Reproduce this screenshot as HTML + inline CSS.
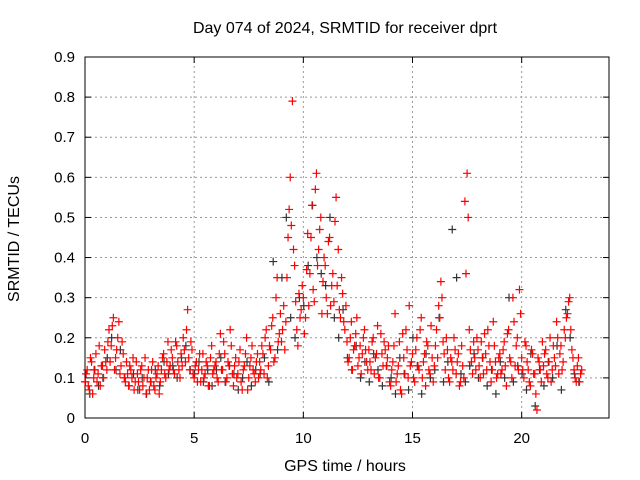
<!DOCTYPE html>
<html><head><meta charset="utf-8"><style>
body{margin:0;background:#fff;}
svg{display:block;font-family:"Liberation Sans",sans-serif;}
</style></head><body>
<svg id="chart" width="640" height="480" viewBox="0 0 640 480" xmlns="http://www.w3.org/2000/svg">
<rect width="640" height="480" fill="#fff"/>
<g id="grid"></g>
<g id="axes"></g>
<g id="marks"></g>
<text x="345" y="33" font-size="16" text-anchor="middle">Day 074 of 2024, SRMTID for receiver dprt</text>
<text x="345" y="471" font-size="16" text-anchor="middle">GPS time / hours</text>
<text transform="translate(19,239) rotate(-90)" font-size="16" text-anchor="middle">SRMTID / TECUs</text>
</svg>
<script>
const xTicks=[0,5,10,15,20];
const yTicks=[0,0.1,0.2,0.3,0.4,0.5,0.6,0.7,0.8,0.9];
const yTickLabels=["0","0.1","0.2","0.3","0.4","0.5","0.6","0.7","0.8","0.9"];
const redA=[.09,.12,.07,.14,.10,.16,.11,.08,.13,.17,
.12,.22,.18,.25,.15,.20,.11,.19,.10,.14,
.08,.12,.15,.09,.11,.07,.13,.10,.06,.12,
.09,.14,.07,.11,.06,.12,.16,.10,.19,.13,
.15,.11,.18,.12,.16,.20,.14,.27,.12,.17,
.10,.14,.12,.09,.16,.11,.13,.08,.18,.12,
.14,.09,.21,.12,.16,.10,.13,.18,.08,.15,
.11,.17,.07,.13,.20,.10,.15,.12,.09,.16,
.14,.18,.11,.22,.13,.17,.25,.15,.35,.21,
.19,.28,.24,.45,.60,.79,.38,.22,.31,.27,
.30,.25,.46,.36,.53,.29,.61,.42,.50,.34,
.38,.26,.45,.33,.29,.55,.42,.25,.31,.22,
.19,.15,.24,.17,.21,.13,.18,.16,.22,.14,
.17,.12,.20,.15,.23,.10,.16,.19,.13,.18,
.08,.14,.26,.11,.19,.06,.15,.22,.10,.13,
.16,.09,.20,.12,.25,.14,.08,.18,.11,.15,
.13,.22,.28,.34,.19,.12,.17,.09,.14,.20,
.11,.16,.09,.13,.54,.61,.22,.14,.19,.12,
.17,.10,.15,.21,.12,.18,.09,.24,.14,.11,
.16,.12,.19,.08,.22,.14,.30,.13,.20,.32,
.15,.10,.18,.12,.08,.16,.11,.02,.14,.09,
.13,.17,.10,.20,.12,.15,.24,.11,.18,.14,
.20,.26,.30,.17,.12,.09,.15,.11];
const redB=[.11,.08,.15,.06,.12,.09,.18,.13,.10,.14,
.19,.14,.23,.12,.17,.24,.13,.16,.09,.11,
.13,.10,.07,.14,.09,.12,.08,.15,.10,.07,
.12,.08,.10,.13,.09,.15,.11,.14,.12,.17,
.12,.19,.14,.10,.13,.17,.22,.15,.19,.11,
.13,.09,.16,.12,.10,.14,.08,.15,.11,.13,
.10,.16,.12,.19,.09,.14,.22,.11,.13,.10,
.14,.09,.12,.16,.07,.13,.18,.11,.14,.10,
.12,.16,.20,.10,.18,.23,.14,.30,.19,.26,
.22,.17,.35,.52,.48,.42,.29,.18,.25,.33,
.21,.37,.28,.45,.32,.57,.38,.47,.26,.40,
.30,.44,.28,.36,.49,.33,.27,.35,.24,.28,
.14,.20,.12,.18,.25,.15,.11,.20,.17,.12,
.14,.19,.11,.16,.10,.21,.13,.17,.15,.09,
.12,.18,.09,.13,.07,.21,.11,.17,.28,.14,
.10,.17,.13,.22,.10,.16,.19,.12,.23,.09,
.18,.15,.25,.30,.16,.20,.10,.15,.12,.17,
.14,.08,.18,.10,.36,.50,.17,.11,.15,.20,
.13,.19,.11,.16,.22,.14,.12,.18,.10,.15,
.11,.17,.13,.21,.15,.10,.24,.18,.12,.26,
.12,.19,.14,.09,.17,.11,.06,.15,.12,.19,
.16,.11,.14,.09,.18,.13,.20,.16,.12,.22,
.25,.29,.22,.15,.10,.13,.09,.12];
const black=[.09,.06,.12,.08,.10,.15,.20,.12,.17,.10,
.08,.11,.07,.10,.06,.09,.12,.08,.14,.11,
.13,.10,.15,.18,.12,.11,.14,.09,.12,.08,
.12,.15,.09,.13,.11,.07,.10,.14,.08,.12,
.11,.15,.09,.39,.17,.35,.50,.25,.20,.30,
.28,.38,.53,.40,.36,.33,.50,.25,.20,.27,
.15,.12,.18,.10,.14,.09,.16,.12,.08,.13,
.10,.06,.15,.11,.07,.20,.13,.06,.16,.10,
.12,.25,.09,.14,.47,.35,.11,.09,.13,.16,
.10,.15,.08,.12,.06,.14,.10,.30,.09,.13,
.11,.07,.16,.03,.12,.08,.14,.10,.18,.07,
.27,.20,.11,.09];
const X0=85,X1=609,Y0=418,Y1=57;
const xs=t=>X0+(t/24)*(X1-X0);
const ys=v=>Y0-(v/0.9)*(Y0-Y1);
const NS="http://www.w3.org/2000/svg";
function el(tag,attrs,parent){const e=document.createElementNS(NS,tag);for(const k in attrs)e.setAttribute(k,attrs[k]);parent.appendChild(e);return e;}
const grid=document.getElementById('grid'),axes=document.getElementById('axes'),marks=document.getElementById('marks');
yTicks.forEach((v,i)=>{
 const y=ys(v);
 if(i>0&&i<yTicks.length-1){const g=el('line',{x1:X0,x2:X1,y1:y,y2:y,stroke:'#999','stroke-dasharray':'2,3','stroke-width':1},grid);
 
 }
 const t=el('text',{x:X0-10,y:y+5,'font-size':15,'text-anchor':'end'},axes);t.textContent=yTickLabels[i];
 
 
 el('line',{x1:X0,x2:X0+6,y1:y,y2:y,stroke:'#000'},axes);
 el('line',{x1:X1,x2:X1-6,y1:y,y2:y,stroke:'#000'},axes);
});
xTicks.forEach(v=>{
 const x=xs(v);
 if(v>0){const g=el('line',{x1:x,x2:x,y1:Y0,y2:Y1,stroke:'#999','stroke-dasharray':'2,3','stroke-width':1},grid);
 
 }
 const t=el('text',{x:x,y:Y0+25,'font-size':15,'text-anchor':'middle'},axes);t.textContent=String(v);
 
 
 el('line',{x1:x,x2:x,y1:Y0,y2:Y0-6,stroke:'#000'},axes);
 el('line',{x1:x,x2:x,y1:Y1,y2:Y1+6,stroke:'#000'},axes);
});
const border=el('rect',{x:X0,y:Y1,width:X1-X0,height:Y0-Y1,fill:'none',stroke:'#000','stroke-width':1},axes);


function plus(t,v,color,name){
 const x=xs(t),y=ys(v);
 const p=el('path',{d:`M${x-4},${y}h8M${x},${y-4}v8`,stroke:color,'stroke-width':1.2,fill:'none'},marks);
 
 
}
black.forEach((v,i)=>plus(i*0.2+0.02,v,'#333','black-point'));
redA.forEach((v,i)=>plus(i*0.1,v,'#ff0000','red-point'));
redB.forEach((v,i)=>plus(i*0.1+0.05,v,'#ff0000','red-point'));
</script>
</body></html>
